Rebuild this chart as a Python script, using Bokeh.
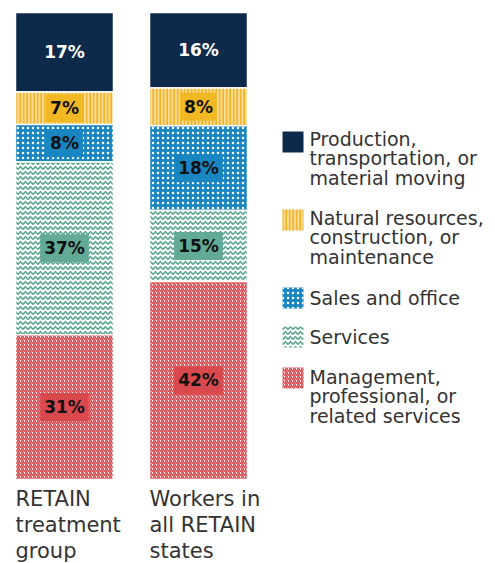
from bokeh.plotting import figure
from bokeh.models import ColumnDataSource, Range1d
from bokeh.core.properties import value
from bokeh.embed import file_html
from bokeh.resources import INLINE

groups = ["RETAIN\ntreatment\ngroup", "Workers in\nall RETAIN\nstates"]
categories = [
    "Production,\ntransportation, or\nmaterial moving",
    "Natural resources,\nconstruction, or\nmaintenance",
    "Sales and office",
    "Services",
    "Management,\nprofessional, or\nrelated services",
]
# values per group, top to bottom
treatment = [17, 7, 8, 37, 31]
all_states = [16, 8, 18, 15, 42]

fills = ["#0e2a4b", "#f8dc9a", "#1a86c1", "#ffffff", "#ffffff"]
hatches = [" ", "|", ".", "v", "/"]
hatch_colors = ["#0e2a4b", "#f2b21f", "#ffffff", "#5aa78f", "#d9484d"]
box_colors = ["#0e2a4b", "#f2b824", "#1a86c1", "#62a996", "#d9484d"]
text_colors = ["#ffffff", "#111111", "#111111", "#111111", "#111111"]
hatch_scales = [12, 3.5, 5, 5, 4]
hatch_weights = [1, 1.6, 1.0, 1.6, 1.6]

W, H = 495, 563
BAR_L, BAR_STEP, BAR_W = 64, 134, 98   # layout in pixels
TOP, BOT = 12, 479

p = figure(width=W, height=H, output_backend="svg", toolbar_location=None,
           min_border=0, outline_line_color=None)
p.x_range = Range1d(-BAR_L / BAR_STEP, (W - BAR_L) / BAR_STEP)
scale_y = (BOT - TOP) / 100
p.y_range = Range1d(-(H - BOT) / scale_y, 100 + TOP / scale_y)
p.axis.visible = False
p.grid.visible = False

def px(x):  # pixel -> data x
    return (x - BAR_L) / BAR_STEP

def py(y):
    return (BOT - y) / scale_y

FONT = value("DejaVu Sans")

series = [treatment, all_states]
for gi, vals in enumerate(series):
    total = sum(vals)
    shares = [v / total * 100 for v in vals]
    tops, bots = [], []
    acc = 100.0
    for s in shares:
        tops.append(acc)
        acc -= s
        bots.append(acc)
    src = ColumnDataSource(dict(
        x=[gi] * 5, top=tops, bottom=bots, fill=fills, hatch=hatches,
        hc=hatch_colors, hs=hatch_scales, hw=hatch_weights,
        ymid=[(t + b) / 2 for t, b in zip(tops, bots)],
        lab=[f"{v}%" for v in vals], box=box_colors, tc=text_colors,
    ))
    p.vbar(x="x", top="top", bottom="bottom", width=BAR_W / BAR_STEP, source=src,
           fill_color="fill", hatch_pattern="hatch", hatch_color="hc",
           hatch_scale="hs", hatch_weight="hw",
           line_color="white", line_width=1.5)
    p.text(x="x", y="ymid", text="lab", source=src,
           text_align="center", text_baseline="middle",
           text_font=FONT, text_font_style="bold",
           text_font_size="17px", text_color="tc",
           background_fill_color="box", padding=4)

    # group label
    for li, line in enumerate(groups[gi].split("\n")):
        p.text(x=[gi - (BAR_W / 2) / BAR_STEP], y=[py(498 + li * 26)], text=[line],
               text_align="left", text_baseline="middle", text_font=FONT,
               text_font_size="21px", text_color="#333333")

# legend
sw_centers = [141.5, 219.5, 297.5, 336.5, 377.5]
text_first = [138, 217, 297, 336, 376]
for ci, cat in enumerate(categories):
    p.rect(x=[px(292.5)], y=[py(sw_centers[ci])], width=21, height=21,
           width_units="screen", height_units="screen",
           fill_color=fills[ci], hatch_pattern=hatches[ci],
           hatch_color=hatch_colors[ci], hatch_scale=hatch_scales[ci],
           hatch_weight=hatch_weights[ci], line_color=None)
    for li, line in enumerate(cat.split("\n")):
        p.text(x=[px(309)], y=[py(text_first[ci] + li * 19.5)], text=[line],
               text_align="left", text_baseline="middle", text_font=FONT,
               text_font_size="19px", text_color="#333333")

open("out.html", "w").write(file_html(p, INLINE))
